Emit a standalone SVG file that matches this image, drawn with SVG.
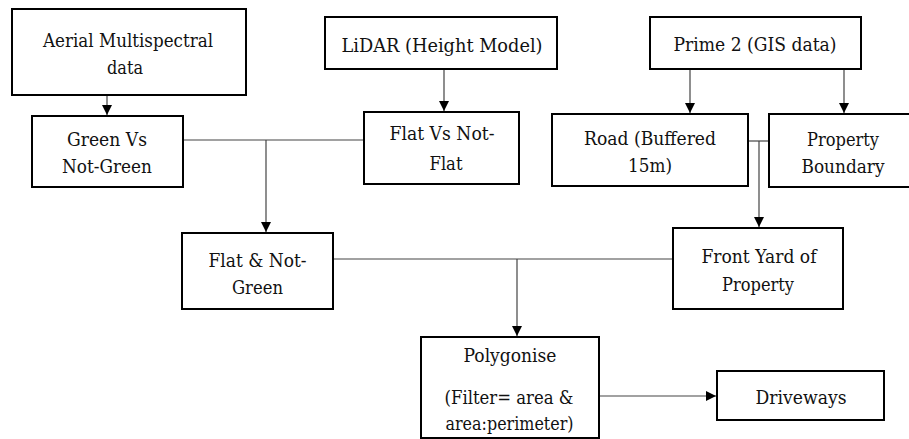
<svg xmlns="http://www.w3.org/2000/svg" width="909" height="439" viewBox="0 0 909 439">
<style>
.box{fill:#fff;stroke:#000;stroke-width:2}
.t{font-family:'DejaVu Serif';font-size:19px;fill:#111;text-anchor:middle}
.c{fill:none;stroke:#444;stroke-width:1.2}
.a{marker-end:url(#ah)}
</style>
<defs>
<marker id="ah" markerWidth="10" markerHeight="10" refX="10" refY="5" orient="auto" markerUnits="userSpaceOnUse">
<path d="M0,0 L10,5 L0,10 Z" fill="#000"/>
</marker>
</defs>
<rect width="909" height="439" fill="#fff"/>
<g id="connectors">
<line class="c a" x1="107" y1="95" x2="107" y2="115"/>
<line class="c a" x1="444" y1="69" x2="444" y2="111"/>
<line class="c a" x1="690" y1="69" x2="690" y2="113"/>
<line class="c a" x1="844" y1="69" x2="844" y2="113"/>
<line class="c" x1="183" y1="140" x2="364" y2="140"/>
<line class="c a" x1="266" y1="140" x2="266" y2="232"/>
<line class="c" x1="748" y1="141" x2="769" y2="141"/>
<line class="c a" x1="759" y1="141" x2="759" y2="227"/>
<line class="c" x1="333" y1="259" x2="673" y2="259"/>
<line class="c a" x1="517" y1="259" x2="517" y2="336"/>
<line class="c a" x1="599" y1="396" x2="716" y2="396"/>
</g>
<g id="aerial">
<rect class="box" x="12" y="9" width="234" height="86"/>
<text class="t" font-family="DejaVu Serif" x="128" y="47" textLength="170" lengthAdjust="spacingAndGlyphs">Aerial Multispectral</text>
<text class="t" font-family="DejaVu Serif" x="125" y="74" textLength="36" lengthAdjust="spacingAndGlyphs">data</text>
</g>
<g id="lidar">
<rect class="box" x="325" y="17" width="232" height="52"/>
<text class="t" font-family="DejaVu Serif" x="442" y="52" textLength="201" lengthAdjust="spacingAndGlyphs">LiDAR (Height Model)</text>
</g>
<g id="prime2">
<rect class="box" x="650" y="17" width="211" height="52"/>
<text class="t" font-family="DejaVu Serif" x="755" y="51" textLength="163" lengthAdjust="spacingAndGlyphs">Prime 2 (GIS data)</text>
</g>
<g id="green">
<rect class="box" x="32" y="116" width="151" height="71"/>
<text class="t" font-family="DejaVu Serif" x="107" y="146" textLength="80" lengthAdjust="spacingAndGlyphs">Green Vs</text>
<text class="t" font-family="DejaVu Serif" x="107" y="173" textLength="90" lengthAdjust="spacingAndGlyphs">Not-Green</text>
</g>
<g id="flat">
<rect class="box" x="364" y="112" width="155" height="72"/>
<text class="t" font-family="DejaVu Serif" x="442" y="140" textLength="105" lengthAdjust="spacingAndGlyphs">Flat Vs Not-</text>
<text class="t" font-family="DejaVu Serif" x="446" y="170" textLength="33" lengthAdjust="spacingAndGlyphs">Flat</text>
</g>
<g id="road">
<rect class="box" x="552" y="114" width="196" height="72"/>
<text class="t" font-family="DejaVu Serif" x="650" y="145" textLength="132" lengthAdjust="spacingAndGlyphs">Road (Buffered</text>
<text class="t" font-family="DejaVu Serif" x="650" y="172" textLength="44" lengthAdjust="spacingAndGlyphs">15m)</text>
</g>
<g id="property">
<rect class="box" x="769" y="114" width="145" height="73"/>
<text class="t" font-family="DejaVu Serif" x="843" y="146" textLength="72" lengthAdjust="spacingAndGlyphs">Property</text>
<text class="t" font-family="DejaVu Serif" x="843" y="173" textLength="83" lengthAdjust="spacingAndGlyphs">Boundary</text>
</g>
<g id="flatnotgreen">
<rect class="box" x="182" y="233" width="151" height="76"/>
<text class="t" font-family="DejaVu Serif" x="257.500" y="267" textLength="98" lengthAdjust="spacingAndGlyphs">Flat &amp; Not-</text>
<text class="t" font-family="DejaVu Serif" x="257.500" y="294" textLength="51" lengthAdjust="spacingAndGlyphs">Green</text>
</g>
<g id="frontyard">
<rect class="box" x="673" y="228" width="170" height="81"/>
<text class="t" font-family="DejaVu Serif" x="759" y="263" textLength="115" lengthAdjust="spacingAndGlyphs">Front Yard of</text>
<text class="t" font-family="DejaVu Serif" x="758" y="291" textLength="72" lengthAdjust="spacingAndGlyphs">Property</text>
</g>
<g id="polygonise">
<rect class="box" x="421" y="337" width="178" height="101"/>
<text class="t" font-family="DejaVu Serif" x="510" y="362" textLength="93" lengthAdjust="spacingAndGlyphs">Polygonise</text>
<text class="t" font-family="DejaVu Serif" x="509" y="404" textLength="129" lengthAdjust="spacingAndGlyphs">(Filter= area &amp;</text>
<text class="t" font-family="DejaVu Serif" x="509.500" y="430" textLength="128" lengthAdjust="spacingAndGlyphs">area:perimeter)</text>
</g>
<g id="driveways">
<rect class="box" x="717" y="371" width="167" height="49"/>
<text class="t" font-family="DejaVu Serif" x="801" y="404" textLength="91" lengthAdjust="spacingAndGlyphs">Driveways</text>
</g>
</svg>
